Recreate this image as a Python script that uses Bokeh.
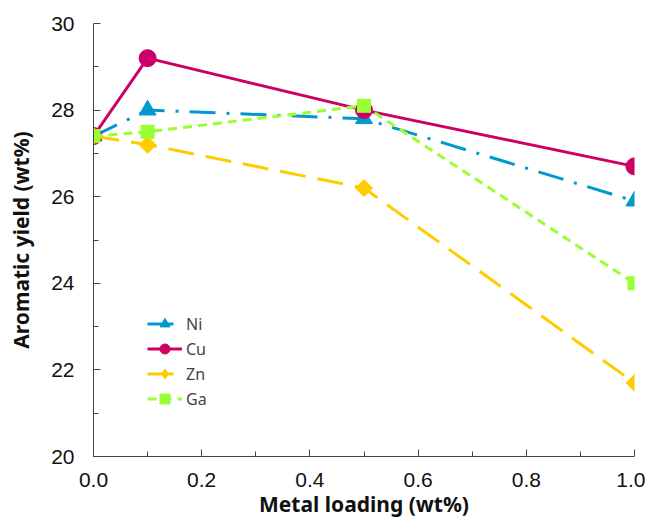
import math
from bokeh.plotting import figure
from bokeh.models import FixedTicker, Legend, LegendItem
from bokeh.embed import file_html
from bokeh.resources import INLINE

loading = [0.0, 0.1, 0.5, 1.0]
ni = [27.4, 28.0, 27.8, 25.9]
cu = [27.4, 29.2, 28.0, 26.7]
zn = [27.4, 27.2, 26.2, 21.7]
ga = [27.4, 27.5, 28.1, 24.0]
x_ticks = [0.0, 0.2, 0.4, 0.6, 0.8, 1.0]
x_minor = [0.1, 0.3, 0.5, 0.7, 0.9]
y_ticks = [20, 22, 24, 26, 28, 30]
y_minor = [21, 23, 25, 27, 29]
x_title = "Metal loading (wt%)"
y_title = "Aromatic yield (wt%)"

p = figure(width=645, height=523, output_backend="svg", toolbar_location=None,
           x_range=(0.0, 1.0), y_range=(20, 30), min_border_left=93,
           min_border_right=11, min_border_top=23, min_border_bottom=67)
p.outline_line_color = None
p.xgrid.visible = False
p.ygrid.visible = False

series = [
    ("Ni", ni, "#0099CC", "26 11 3 11", "triangle", 17, 0.0, "triangle"),
    ("Cu", cu, "#CC0066", "solid", "circle", 17, 0.0, "circle"),
    ("Zn", zn, "#FFCC00", "26 12", "square", 12, math.pi / 4, "diamond"),
    ("Ga", ga, "#99FF33", "9 6", "square", 13, 0.0, "square"),
]
nan = float("nan")
items = []
for name, ys, col, dash, mk, sz, ang, lmk in series:
    l = p.line(loading, ys, line_color=col, line_width=3, line_dash=dash)
    m = p.scatter(loading, ys, marker=mk, size=sz, angle=ang,
                  fill_color=col, line_color=col)
    if lmk == mk and ang == 0.0:
        items.append(LegendItem(label=name, renderers=[l, m]))
    else:
        d = p.scatter([nan], [nan], marker=lmk, size=sz,
                      fill_color=col, line_color=col)
        items.append(LegendItem(label=name, renderers=[l, d]))

legend = Legend(items=items, location=(54, 45), background_fill_alpha=0,
                border_line_color=None, glyph_width=35, glyph_height=25,
                label_height=25, label_text_font="Noto Sans",
                label_text_font_size="16px", spacing=0, label_standoff=4)
p.add_layout(legend)

for ax in (p.xaxis[0], p.yaxis[0]):
    ax.axis_line_color = "#444444"
    ax.major_tick_line_color = "#444444"
    ax.minor_tick_line_color = "#444444"
    ax.major_tick_in = 7
    ax.major_tick_out = 0
    ax.minor_tick_in = 5
    ax.minor_tick_out = 0
    ax.major_label_text_font = "Liberation Sans"
    ax.major_label_text_font_size = "21px"
    ax.major_label_text_color = "#111111"
    ax.axis_label_text_font = "Noto Sans"
    ax.axis_label_text_font_style = "bold"
    ax.axis_label_text_font_size = "21px"
    ax.axis_label_text_color = "#111111"

p.xaxis.ticker = FixedTicker(ticks=x_ticks, minor_ticks=x_minor)
p.yaxis.ticker = FixedTicker(ticks=y_ticks, minor_ticks=y_minor)
p.xaxis.major_label_overrides = {t: f"{t:.1f}" for t in x_ticks}
p.xaxis.axis_label = x_title
p.yaxis.axis_label = y_title
p.xaxis.major_label_standoff = 16
p.yaxis.major_label_standoff = 19
p.xaxis.axis_label_standoff = 0
p.yaxis.axis_label_standoff = 13

open("out.html", "w").write(file_html(p, INLINE))
